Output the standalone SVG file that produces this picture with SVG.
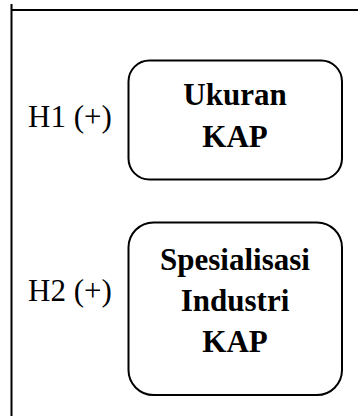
<svg xmlns="http://www.w3.org/2000/svg" width="358" height="416" viewBox="0 0 358 416">
<style>
.frame{fill:none;stroke:#000;stroke-width:2}
.box{fill:#fff;stroke:#000;stroke-width:2}
.lbl{font-family:"Liberation Serif","Times New Roman",serif;font-size:31px;fill:#000}
.nt{font-family:"Liberation Serif","Times New Roman",serif;font-size:31px;font-weight:bold;fill:#000;text-anchor:middle}
</style>
<rect width="358" height="416" fill="#fff"/>
<g id="connectors">
<path class="frame" d="M11.5 4 V416 M11.5 10 H358"/>
</g>
<g id="h1">
<text class="lbl" x="28" y="127">H1 (+)</text>
</g>
<g id="node-ukuran">
<rect class="box" x="128.5" y="60.5" width="213.5" height="119" rx="21"/>
<text class="nt" x="235" y="105">Ukuran</text>
<text class="nt" x="235" y="147">KAP</text>
</g>
<g id="h2">
<text class="lbl" x="28" y="301">H2 (+)</text>
</g>
<g id="node-spesialisasi">
<rect class="box" x="128.5" y="222.5" width="213.5" height="172.5" rx="25"/>
<text class="nt" x="235" y="270">Spesialisasi</text>
<text class="nt" x="235" y="311">Industri</text>
<text class="nt" x="235" y="352">KAP</text>
</g>
</svg>
